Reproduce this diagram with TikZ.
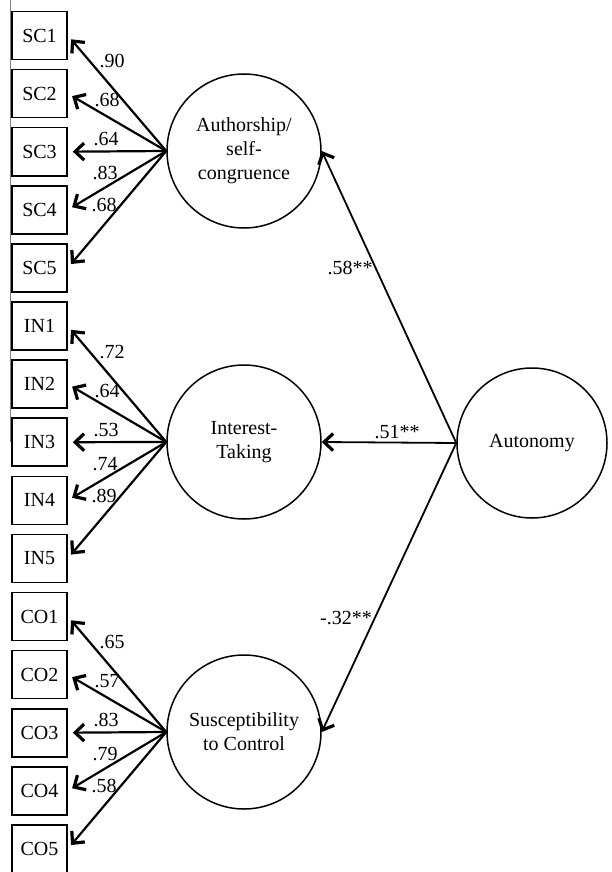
\documentclass[tikz,border=0pt]{standalone}
\usepackage{fontspec}
\setmainfont{Liberation Serif}
\usetikzlibrary{arrows.meta}

\tikzset{
  item/.style={draw, line width=0.8pt, minimum width=27.5pt, minimum height=24pt, inner sep=0pt},
  factor/.style={draw, circle, line width=0.75pt, minimum size=77pt, inner sep=0pt, align=center},
  load/.style={-{Straight Barb[length=4.5pt,width=8.5pt,line width=1.6pt]}, line width=1.1pt, shorten >=2.5pt},
  path/.style={-{Straight Barb[length=4.5pt,width=8.5pt,line width=1.6pt]}, line width=0.9pt},
}

\begin{document}
\begin{tikzpicture}[x=0.5pt, y=-0.5pt]
        \useasboundingbox (0,0) rectangle (611,872);
        \draw[gray, line width=0.6pt] (10.5,0) -- (10.5,442);

        \node[factor] (auth) at (244,151) {Authorship/\\self-\\congruence};
        \node[factor] (inte) at (244,442) {Interest-\\Taking};
        \node[factor] (susc) at (244,732) {Susceptibility\\to Control};
        \node[factor, minimum size=75pt] (auto) at (532,443) {Autonomy};

        \foreach \name [count=\i from 0] in {SC1, SC2, SC3, SC4, SC5, IN1, IN2, IN3, IN4, IN5, CO1, CO2, CO3, CO4, CO5} {
          \node[item] (\name) at (39.5, {35.5+58.1*\i}) {\name};
        }

        \foreach \f/\p/\a/\b/\c/\d/\e in {auth/SC/.90/.68/.64/.83/.68, inte/IN/.72/.64/.53/.74/.89, susc/CO/.65/.57/.83/.79/.58} {
          \foreach \k in {1, ..., 5} {
            \draw[load] (\f.west) -- (\p\k.east);
          }
          \path (\f.center) ++(-132,-90) node (\p1-w) {\a};
          \path (\f.center) ++(-137,-51) node (\p2-w) {\b};
          \path (\f.center) ++(-138,-12) node (\p3-w) {\c};
          \path (\f.center) ++(-139,22) node (\p4-w) {\d};
          \path (\f.center) ++(-140,54) node (\p5-w) {\e};
        }

        \draw[path] (auto.west) -- (auth.east);
        \draw[path] (auto.west) -- (inte.east);
        \draw[path] (auto.west) -- (susc.east);
        \node (b-auth) at (350,268) {.58**};
        \node (b-inte) at (397,432) {.51**};
        \node (b-susc) at (346,618) {-.32**};
      \end{tikzpicture}
\end{document}
